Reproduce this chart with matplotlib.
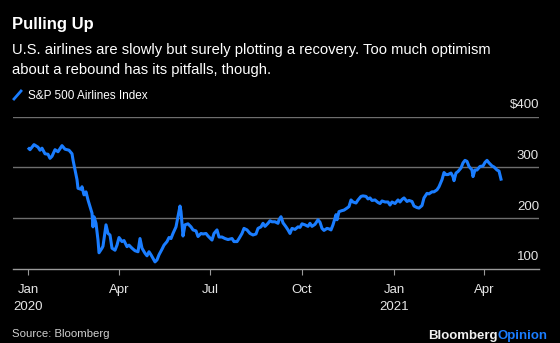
import pandas as pd
import matplotlib.pyplot as plt
import matplotlib.transforms as mtransforms

plt.rcParams['font.family'] = ['Liberation Sans', 'DejaVu Sans']

# S&P 500 Airlines Index
dates = [
    '2020-01-02', '2020-01-03', '2020-01-07', '2020-01-11', '2020-01-13', '2020-01-15',
    '2020-01-18', '2020-01-21', '2020-01-23', '2020-01-25', '2020-01-28', '2020-01-31',
    '2020-02-04', '2020-02-07', '2020-02-11', '2020-02-14', '2020-02-15', '2020-02-17',
    '2020-02-19', '2020-02-20', '2020-02-23', '2020-02-24', '2020-02-26', '2020-02-28',
    '2020-03-01', '2020-03-03', '2020-03-05', '2020-03-06', '2020-03-07', '2020-03-09',
    '2020-03-11', '2020-03-12', '2020-03-15', '2020-03-16', '2020-03-19', '2020-03-21',
    '2020-03-23', '2020-03-25', '2020-03-28', '2020-03-30', '2020-04-01', '2020-04-04',
    '2020-04-06', '2020-04-09', '2020-04-11', '2020-04-14', '2020-04-17', '2020-04-20',
    '2020-04-22', '2020-04-24', '2020-04-27', '2020-04-29', '2020-05-01', '2020-05-03',
    '2020-05-05', '2020-05-07', '2020-05-09', '2020-05-11', '2020-05-14', '2020-05-16',
    '2020-05-19', '2020-05-21', '2020-05-23', '2020-05-25', '2020-05-28', '2020-05-30',
    '2020-06-01', '2020-06-02', '2020-06-03', '2020-06-04', '2020-06-06', '2020-06-09',
    '2020-06-12', '2020-06-14', '2020-06-17', '2020-06-19', '2020-06-22', '2020-06-24',
    '2020-06-27', '2020-06-29', '2020-07-03', '2020-07-05', '2020-07-08', '2020-07-10',
    '2020-07-13', '2020-07-16', '2020-07-19', '2020-07-23', '2020-07-25', '2020-07-28',
    '2020-07-30', '2020-08-02', '2020-08-04', '2020-08-07', '2020-08-10', '2020-08-13',
    '2020-08-16', '2020-08-18', '2020-08-21', '2020-08-23', '2020-08-25', '2020-08-28',
    '2020-08-30', '2020-09-01', '2020-09-04', '2020-09-07', '2020-09-08', '2020-09-10',
    '2020-09-12', '2020-09-15', '2020-09-17', '2020-09-19', '2020-09-21', '2020-09-24',
    '2020-09-27', '2020-09-29', '2020-10-01', '2020-10-04', '2020-10-07', '2020-10-09',
    '2020-10-11', '2020-10-14', '2020-10-17', '2020-10-19', '2020-10-21', '2020-10-23',
    '2020-10-26', '2020-10-28', '2020-10-30', '2020-11-01', '2020-11-04', '2020-11-05',
    '2020-11-07', '2020-11-10', '2020-11-12', '2020-11-15', '2020-11-17', '2020-11-19',
    '2020-11-21', '2020-11-24', '2020-11-26', '2020-11-29', '2020-12-01', '2020-12-04',
    '2020-12-06', '2020-12-08', '2020-12-10', '2020-12-13', '2020-12-16', '2020-12-18',
    '2020-12-20', '2020-12-23', '2020-12-26', '2020-12-28', '2020-12-30', '2021-01-02',
    '2021-01-05', '2021-01-07', '2021-01-09', '2021-01-11', '2021-01-14', '2021-01-16',
    '2021-01-19', '2021-01-21', '2021-01-24', '2021-01-26', '2021-01-29', '2021-01-31',
    '2021-02-03', '2021-02-05', '2021-02-08', '2021-02-10', '2021-02-13', '2021-02-15',
    '2021-02-18', '2021-02-20', '2021-02-22', '2021-02-24', '2021-02-27', '2021-03-01',
    '2021-03-02', '2021-03-04', '2021-03-06', '2021-03-09', '2021-03-11', '2021-03-13',
    '2021-03-15', '2021-03-17', '2021-03-20', '2021-03-21', '2021-03-23', '2021-03-25',
    '2021-03-28', '2021-03-31', '2021-04-02', '2021-04-04', '2021-04-06', '2021-04-09',
    '2021-04-11', '2021-04-14', '2021-04-16', '2021-04-18',
]
index_values = [
    337, 335, 345, 340, 334, 338,
    327, 326, 318, 322, 335, 331,
    343, 336, 334, 327, 315, 295,
    276, 259, 257, 262, 246, 252,
    236, 223, 210, 183, 203, 190,
    157, 132, 141, 145, 187, 170,
    167, 141, 137, 147, 162, 154,
    156, 144, 147, 141, 136, 134,
    160, 141, 131, 126, 134, 128,
    121, 114, 118, 128, 139, 147,
    154, 162, 160, 170, 183, 203,
    224, 213, 189, 165, 187, 189,
    183, 177, 175, 164, 170, 169,
    170, 165, 157, 170, 177, 163,
    163, 160, 158, 160, 154, 154,
    160, 170, 180, 177, 170, 167,
    169, 180, 183, 190, 184, 190,
    195, 193, 193, 190, 197, 203,
    191, 183, 177, 170, 180, 178,
    183, 182, 189, 187, 184, 190,
    184, 188, 197, 192, 180, 176,
    180, 179, 177, 187, 207, 197,
    213, 215, 216, 220, 223, 236,
    232, 230, 236, 243, 244, 243,
    238, 240, 235, 236, 231, 229,
    234, 232, 232, 226, 232, 229,
    236, 232, 237, 240, 233, 235,
    233, 224, 221, 220, 225, 240,
    249, 248, 252, 252, 256, 262,
    276, 290, 286, 286, 289, 282,
    274, 289, 292, 299, 309, 314,
    312, 302, 295, 282, 295, 295,
    302, 303, 310, 314, 309, 303,
    301, 295, 293, 277,
]

tick_dates = ['2020-01-01', '2020-04-01', '2020-07-01', '2020-10-01', '2021-01-01', '2021-04-01']
tick_labels = ['Jan\n2020', 'Apr', 'Jul', 'Oct', 'Jan\n2021', 'Apr']
y_ticks = [100, 200, 300, 400]
y_labels = ['100', '200', '300', '$400']

BLUE = '#1a7dff'
GRID = '#6e6e6e'

s = pd.Series(index_values, index=pd.to_datetime(dates))

fig = plt.figure(figsize=(5.6, 3.43), dpi=100, facecolor='black')
ax = fig.add_axes([13 / 560, 1 - 269 / 343, 526 / 560, (269 - 116.7) / 343])
ax.set_facecolor('black')

ax.plot(s.index, s.values, color=BLUE, lw=2.2, solid_joinstyle='round', zorder=3)

ax.set_xlim(pd.Timestamp('2019-12-17'), pd.Timestamp('2021-05-26'))
ax.set_ylim(100, 400)

for v in y_ticks[1:]:
    ax.axhline(v, color=GRID, lw=1, zorder=1)
for sp in ax.spines.values():
    sp.set_visible(False)
ax.axhline(100, color='#9a9a9a', lw=1, zorder=2, clip_on=False)

ax.set_yticks([])
ax.set_xticks(pd.to_datetime(tick_dates))
ax.set_xticklabels(tick_labels, color='#e6e6e6', fontsize=9.5, linespacing=1.5)
ax.tick_params(axis='x', length=4, color='#9a9a9a', pad=7, direction='out')

# y labels sit above the gridlines on the right
trans = mtransforms.blended_transform_factory(ax.transAxes, ax.transData)
off = mtransforms.offset_copy(trans, fig=fig, x=0, y=4, units='points')
for v, lab in zip(y_ticks, y_labels):
    ax.text(1.0, v, lab, transform=off, ha='right', va='bottom',
            color='#e6e6e6', fontsize=9.5)

fig.text(12 / 560, 1 - 29 / 343, 'Pulling Up', color='white', fontsize=12,
         fontweight='bold', va='baseline')
fig.text(12 / 560, 1 - 54 / 343, 'U.S. airlines are slowly but surely plotting a recovery. Too much optimism',
         color='white', fontsize=10.6, va='baseline')
fig.text(12 / 560, 1 - 74 / 343, 'about a rebound has its pitfalls, though.',
         color='white', fontsize=10.6, va='baseline')

# legend swatch
fig.add_artist(plt.Line2D([14 / 560, 21 / 560], [1 - 99 / 343, 1 - 91 / 343],
                          color=BLUE, lw=2, transform=fig.transFigure))
fig.text(28 / 560, 1 - 99 / 343, 'S&P 500 Airlines Index', color='white',
         fontsize=8.5, va='baseline')

fig.text(12 / 560, 1 - 337 / 343, 'Source: Bloomberg', color='#d0d0d0', fontsize=8.2,
         va='baseline')
t1 = fig.text(428 / 560, 1 - 339 / 343, 'Bloomberg', color='#f0f0f0', fontsize=9.5,
              fontweight='bold', va='baseline')
fig.canvas.draw()
bb = t1.get_window_extent()
fig.text(bb.x1 / fig.bbox.width, 1 - 339 / 343, 'Opinion', color=BLUE, fontsize=9.5,
         fontweight='bold', va='baseline')

fig.savefig('out.png', dpi=100, facecolor='black')
